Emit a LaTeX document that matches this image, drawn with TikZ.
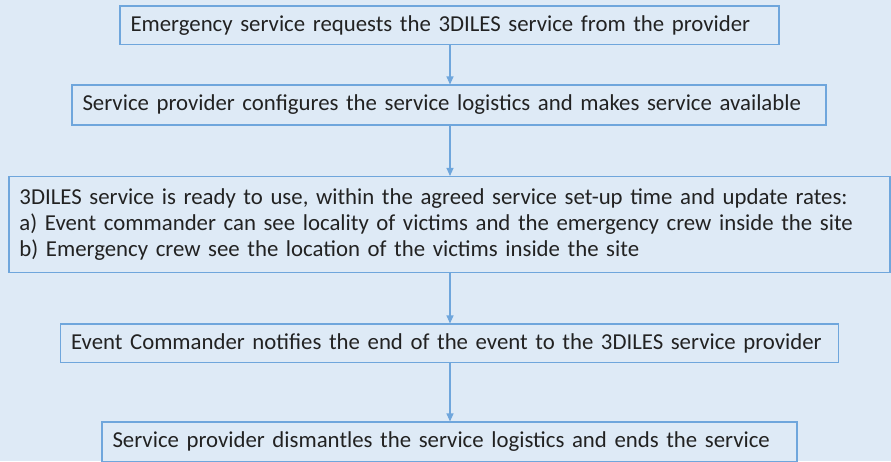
\documentclass[tikz,border=0pt]{standalone}
\usepackage{fontspec}
\setmainfont{Carlito}[WordSpace=0.92]
\usetikzlibrary{arrows.meta}
\definecolor{bgblue}{HTML}{DEEAF6}
\definecolor{edgeblue}{HTML}{6FA6DC}
\definecolor{txt}{HTML}{222222}
\tikzset{
  stepbox/.style={draw=edgeblue, line width=1.1pt, fill=bgblue, rectangle, inner xsep=10.5pt, inner ysep=0pt,
    text=txt, align=left, font=\fontsize{22.8}{26}\selectfont},
  flow/.style={draw=edgeblue, line width=1.1pt, -{Triangle[width=7pt,length=8pt]}}
}
\begin{document}
\begin{tikzpicture}[x=1pt,y=-1pt]
\useasboundingbox (0,0) rectangle (891,461);
\clip (0,0) rectangle (891,461);
\fill[bgblue] (0,0) rectangle (891,461);
\node[stepbox, text width=638pt, minimum height=38.5pt] (b1) at (449.5,25.25)
  {Emergency service requests the 3DILES service from the provider};
\node[stepbox, text width=733pt, minimum height=40pt] (b2) at (449,105)
  {Service provider configures the service logistics and makes service available};
\node[stepbox, text width=860pt, minimum height=96pt] (b3) at (449.5,224.5)
  {3DILES service is ready to use, within the agreed service set-up time and update rates:\\
   a) Event commander can see locality of victims and the emergency crew inside the site\\
   b) Emergency crew see the location of the victims inside the site};
\node[stepbox, text width=757pt, minimum height=38.5pt] (b4) at (449.6,343.25)
  {Event Commander notifies the end of the event to the 3DILES service provider};
\node[stepbox, text width=674pt, minimum height=40pt] (b5) at (449.5,442)
  {Service provider dismantles the service logistics and ends the service};
\draw[flow] (b1.south -| 450,0) -- (b2.north -| 450,0);
\draw[flow] (b2.south -| 450,0) -- (b3.north -| 450,0);
\draw[flow] (b3.south -| 450,0) -- (b4.north -| 450,0);
\draw[flow] (b4.south -| 450,0) -- (b5.north -| 450,0);
\end{tikzpicture}
\end{document}
